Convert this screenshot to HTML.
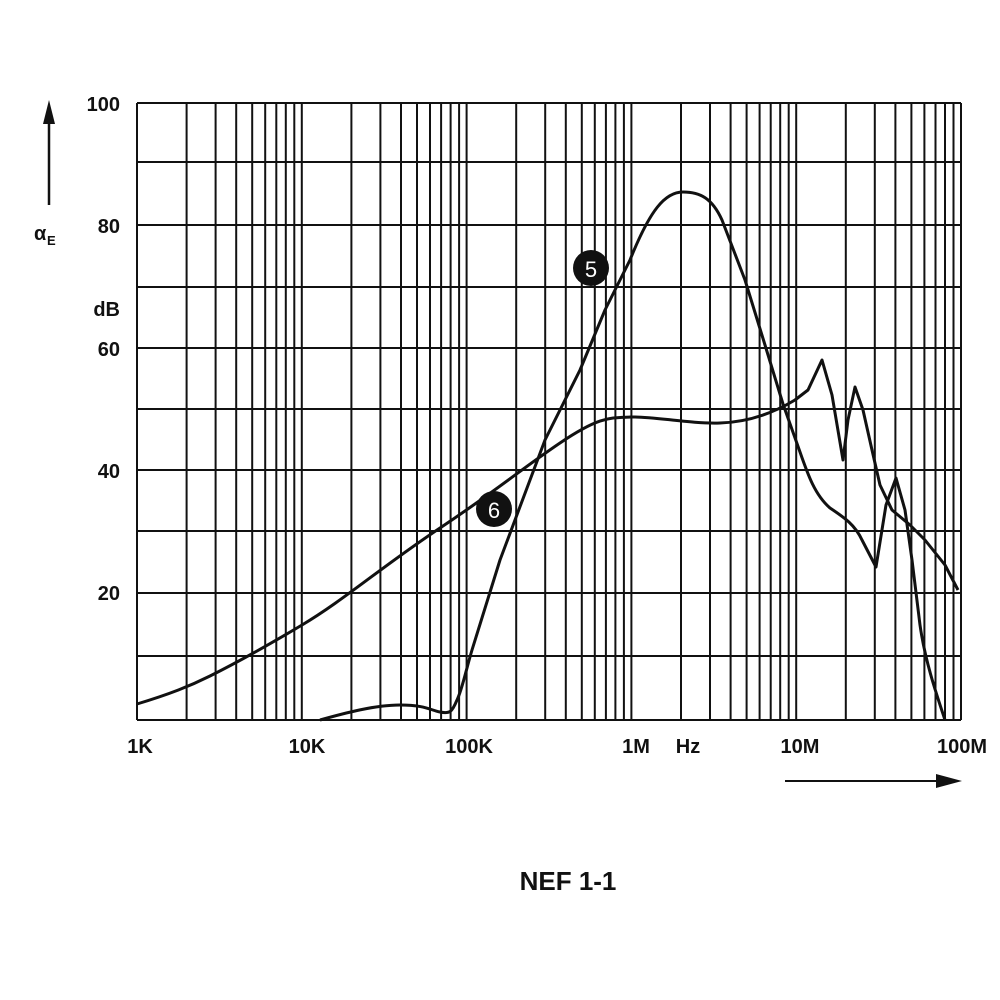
<!DOCTYPE html>
<html><head><style>body{margin:0;background:#fff}svg{display:block}</style></head><body>
<svg width="1000" height="1000" xmlns="http://www.w3.org/2000/svg" font-family="Liberation Sans, Arial, sans-serif" font-weight="bold" fill="#111">
<rect width="1000" height="1000" fill="#fff"/>
<path stroke="#111" stroke-width="2" fill="none" d="
M137,103H961 M137,162H961 M137,225H961 M137,287H961 M137,348H961 M137,409H961 M137,470H961 M137,531H961 M137,593H961 M137,656H961 M137,720H961
M137,103V720 M186.6,103V720 M215.6,103V720 M236.2,103V720 M252.2,103V720 M265.2,103V720 M276.3,103V720 M285.8,103V720 M294.3,103V720
M301.8,103V720 M351.4,103V720 M380.4,103V720 M401,103V720 M417,103V720 M430,103V720 M441.1,103V720 M450.6,103V720 M459.1,103V720
M466.6,103V720 M516.2,103V720 M545.2,103V720 M565.8,103V720 M581.8,103V720 M594.8,103V720 M605.9,103V720 M615.4,103V720 M623.9,103V720
M631.4,103V720 M681,103V720 M710,103V720 M730.6,103V720 M746.6,103V720 M759.6,103V720 M770.7,103V720 M780.2,103V720 M788.7,103V720
M796.2,103V720 M845.8,103V720 M874.8,103V720 M895.4,103V720 M911.4,103V720 M924.4,103V720 M935.5,103V720 M945,103V720 M953.5,103V720
M961,103V720"/>
<g font-size="20" text-anchor="end">
<text x="120" y="111">100</text><text x="120" y="233">80</text><text x="120" y="356">60</text><text x="120" y="478">40</text><text x="120" y="600">20</text>
<text x="120" y="316">dB</text>
</g>
<text x="34" y="240" font-size="20">α</text><text x="47" y="245" font-size="13">E</text>
<line x1="49" y1="205" x2="49" y2="118" stroke="#111" stroke-width="2.5"/>
<polygon points="49,100 43,124 55,124" fill="#111"/>
<g font-size="20" text-anchor="middle">
<text x="140" y="753">1K</text><text x="307" y="753">10K</text><text x="469" y="753">100K</text><text x="636" y="753">1M</text><text x="688" y="753">Hz</text><text x="800" y="753">10M</text><text x="962" y="753">100M</text>
</g>
<line x1="785" y1="781" x2="940" y2="781" stroke="#111" stroke-width="2"/>
<polygon points="962,781 936,774 936,788" fill="#111"/>
<text x="568" y="890" font-size="26" text-anchor="middle">NEF 1-1</text>
<g fill="none" stroke="#111" stroke-width="3" stroke-linejoin="round">
<path d="M137,704 C170,694 190,686 210,676 S260,650 302,625 S380,568 440,528 S520,470 560,443 S610,418 631,417 S690,424 720,423 S775,412 795,400 L808,390 L822,360 L832,395 L843,460 L848,420 L855,387 L863,410 L872,450 L880,485 L892,510 L910,525 L925,540 L945,565 L958,590"/>
<path d="M320,720 C345,713 375,705 400,705 S430,710 440,712 S452,712 457,700 C462,690 466,670 472,650 L500,560 L545,440 L580,370 L605,310 L630,260 C650,210 665,192 683,192 C700,192 712,198 722,220 L745,280 L765,345 L783,404 L800,452 C808,475 815,495 830,508 C845,518 855,525 862,540 L876,567 L886,505 L896,478 L905,510 L912,560 L920,625 C925,660 935,690 945,720"/>
</g>
<circle cx="591" cy="268" r="18" fill="#111"/><text x="591" y="277" font-size="22" fill="#fff" text-anchor="middle" font-weight="normal">5</text>
<circle cx="494" cy="509" r="18" fill="#111"/><text x="494" y="518" font-size="22" fill="#fff" text-anchor="middle" font-weight="normal">6</text>
</svg>
</body></html>
